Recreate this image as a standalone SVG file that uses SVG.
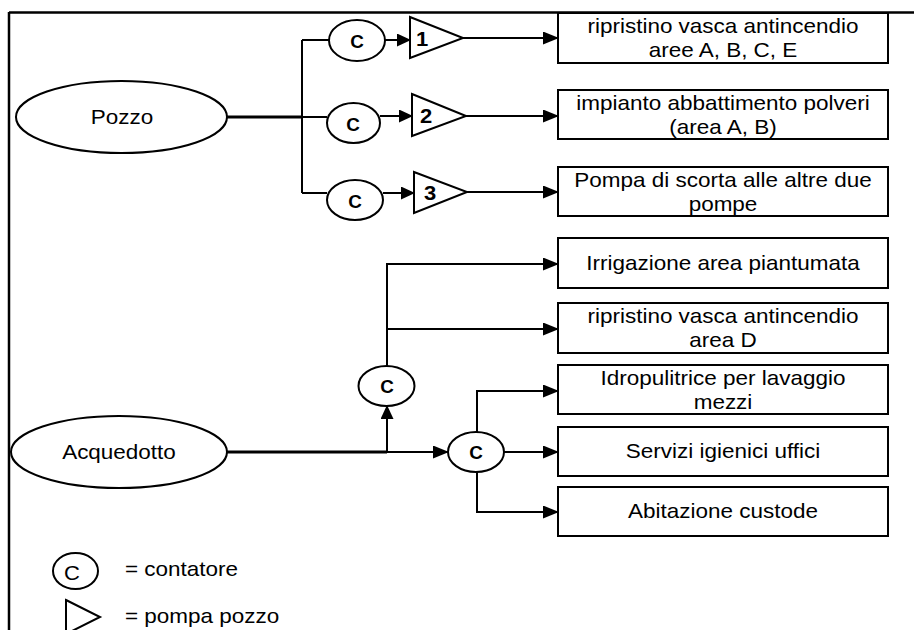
<svg xmlns="http://www.w3.org/2000/svg" width="914" height="630" viewBox="0 0 914 630">
<defs>
<marker id="ah" markerUnits="userSpaceOnUse" markerWidth="16" markerHeight="13" refX="15" refY="6.5" orient="auto">
<path d="M0,0 L16,6.5 L0,13 z" fill="#000"/>
</marker>
<marker id="ahs" markerUnits="userSpaceOnUse" markerWidth="14" markerHeight="13" refX="13" refY="6.5" orient="auto">
<path d="M0,0 L14,6.5 L0,13 z" fill="#000"/>
</marker>
</defs>
<style>
.shape{fill:#fff;stroke:#000;stroke-width:2}
.ln{fill:none;stroke:#000;stroke-width:2}
.trunk{fill:none;stroke:#000;stroke-width:3}
.lbl{font-family:"Liberation Sans",Arial,sans-serif;font-size:20px;fill:#000;text-anchor:middle}
.num{font-family:"Liberation Sans",Arial,sans-serif;font-size:20px;font-weight:bold;fill:#000;text-anchor:middle}
.cc{font-family:"Liberation Sans",Arial,sans-serif;font-size:18px;font-weight:bold;fill:#000;text-anchor:middle}
.leg{font-family:"Liberation Sans",Arial,sans-serif;font-size:20px;fill:#000}
</style>
<rect width="914" height="630" fill="#fff"/>
<g id="frame">
<path d="M9,12.5 H914 M9,12 V630" fill="none" stroke="#000" stroke-width="2.5"/>
</g>
<g id="connectors">
<path class="trunk" d="M227,117 H302"/>
<path class="ln" d="M302,40 V193 M302,40 H329 M302,117 H327 M302,193 H327"/>
<path class="ln" d="M385,40 H410" marker-end="url(#ahs)"/>
<path class="ln" d="M380,116 H412" marker-end="url(#ahs)"/>
<path class="ln" d="M383,193 H414" marker-end="url(#ahs)"/>
<path class="ln" d="M463,38 H558" marker-end="url(#ah)"/>
<path class="ln" d="M466,116 H558" marker-end="url(#ah)"/>
<path class="ln" d="M467,192 H558" marker-end="url(#ah)"/>
<path class="trunk" d="M227,452 H387"/>
<path class="ln" d="M387,452 H448" marker-end="url(#ah)"/>
<path class="ln" d="M387,452 V406" marker-end="url(#ahs)"/>
<path class="ln" d="M387,366 V264 H558" marker-end="url(#ah)"/>
<path class="ln" d="M387,329 H558" marker-end="url(#ah)"/>
<path class="ln" d="M477,432 V391 H558" marker-end="url(#ah)"/>
<path class="ln" d="M504,452 H558" marker-end="url(#ah)"/>
<path class="ln" d="M477,472 V512 H558" marker-end="url(#ah)"/>
</g>
<g id="pozzo">
<ellipse class="shape" cx="121.5" cy="117" rx="105.5" ry="36"/>
<text class="lbl" transform="translate(122,124) scale(1.125,1)">Pozzo</text>
</g>
<g id="acquedotto">
<ellipse class="shape" cx="119" cy="452" rx="108" ry="36"/>
<text class="lbl" transform="translate(119,459) scale(1.125,1)">Acquedotto</text>
</g>
<g id="c1">
<ellipse class="shape" cx="357" cy="40.5" rx="28" ry="20.5"/>
<text class="cc" transform="translate(357,48) scale(1.05,1)">C</text>
</g>
<g id="c2">
<ellipse class="shape" cx="353.5" cy="123" rx="26.5" ry="20"/>
<text class="cc" transform="translate(353,131) scale(1.05,1)">C</text>
</g>
<g id="c3">
<ellipse class="shape" cx="355" cy="200" rx="28" ry="20"/>
<text class="cc" transform="translate(355,208) scale(1.05,1)">C</text>
</g>
<g id="c4">
<ellipse class="shape" cx="386.5" cy="386" rx="28" ry="20"/>
<text class="cc" transform="translate(387,393) scale(1.05,1)">C</text>
</g>
<g id="c5">
<ellipse class="shape" cx="476" cy="452" rx="28" ry="20"/>
<text class="cc" transform="translate(476,459) scale(1.05,1)">C</text>
</g>
<g id="pump1">
<path class="shape" d="M410,17 L463,38 L410,58 Z"/>
<text class="num" transform="translate(422,46) scale(1.1,1)">1</text>
</g>
<g id="pump2">
<path class="shape" d="M412,94 L466,116 L412,136 Z"/>
<text class="num" transform="translate(426,123) scale(1.1,1)">2</text>
</g>
<g id="pump3">
<path class="shape" d="M414,172 L467,192 L414,213 Z"/>
<text class="num" transform="translate(430,200) scale(1.1,1)">3</text>
</g>
<g id="box1">
<rect class="shape" x="558" y="13" width="330" height="50"/>
<text class="lbl" transform="translate(723,33) scale(1.125,1)">ripristino vasca antincendio</text>
<text class="lbl" transform="translate(723,57) scale(1.125,1)">aree A, B, C, E</text>
</g>
<g id="box2">
<rect class="shape" x="558" y="90" width="330" height="49"/>
<text class="lbl" transform="translate(723,110) scale(1.125,1)">impianto abbattimento polveri</text>
<text class="lbl" transform="translate(723,134) scale(1.125,1)">(area A, B)</text>
</g>
<g id="box3">
<rect class="shape" x="558" y="167" width="330" height="49"/>
<text class="lbl" transform="translate(723,187) scale(1.125,1)">Pompa di scorta alle altre due</text>
<text class="lbl" transform="translate(723,211) scale(1.125,1)">pompe</text>
</g>
<g id="box4">
<rect class="shape" x="558" y="238" width="330" height="50"/>
<text class="lbl" transform="translate(723,270) scale(1.125,1)">Irrigazione area piantumata</text>
</g>
<g id="box5">
<rect class="shape" x="558" y="303" width="330" height="50"/>
<text class="lbl" transform="translate(723,323) scale(1.125,1)">ripristino vasca antincendio</text>
<text class="lbl" transform="translate(723,347) scale(1.125,1)">area D</text>
</g>
<g id="box6">
<rect class="shape" x="558" y="365" width="330" height="49"/>
<text class="lbl" transform="translate(723,385) scale(1.125,1)">Idropulitrice per lavaggio</text>
<text class="lbl" transform="translate(723,409) scale(1.125,1)">mezzi</text>
</g>
<g id="box7">
<rect class="shape" x="558" y="427" width="330" height="49"/>
<text class="lbl" transform="translate(723,458) scale(1.125,1)">Servizi igienici uffici</text>
</g>
<g id="box8">
<rect class="shape" x="558" y="487" width="330" height="49"/>
<text class="lbl" transform="translate(723,518) scale(1.125,1)">Abitazione custode</text>
</g>
<g id="legend-contatore">
<ellipse class="shape" cx="75.5" cy="571" rx="22.5" ry="18"/>
<text class="lbl" transform="translate(72,580) scale(1.1,1)">C</text>
<text class="leg" transform="translate(125,576) scale(1.125,1)">= contatore</text>
</g>
<g id="legend-pompa">
<path class="shape" d="M66,600 L100,617 L66,634 Z"/>
<text class="leg" transform="translate(125,623) scale(1.125,1)">= pompa pozzo</text>
</g>
</svg>
